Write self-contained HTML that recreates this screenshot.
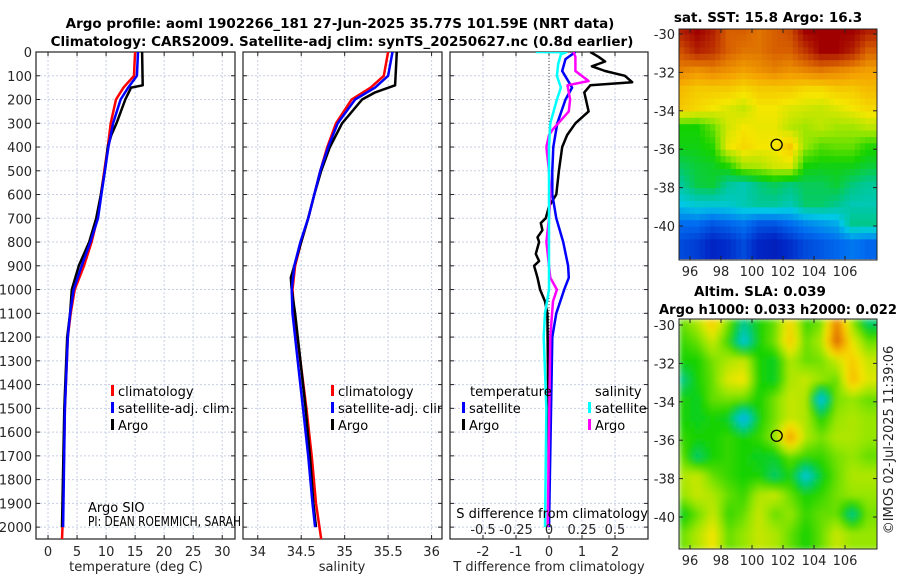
<!DOCTYPE html>
<html><head><meta charset="utf-8">
<style>
html,body{margin:0;padding:0;background:#fff;}
svg{display:block;font-family:"DejaVu Sans","Liberation Sans",sans-serif;}
.tk{font-size:13px;fill:#262626;}
.tt{font-size:13.5px;font-weight:bold;fill:#000;}
.lg{font-size:13px;fill:#000;}
</style></head>
<body>
<svg id="fig" width="900" height="580" viewBox="0 0 900 580" xmlns="http://www.w3.org/2000/svg">
<defs>
<clipPath id="c1"><rect x="36" y="52" width="199" height="487"/></clipPath>
<clipPath id="c2"><rect x="243" y="52" width="199" height="487"/></clipPath>
<clipPath id="c3"><rect x="450" y="52" width="198" height="487"/></clipPath>
<clipPath id="cm1"><rect x="679" y="29" width="198" height="231"/></clipPath>
<clipPath id="cm2"><rect x="679" y="319" width="198" height="230"/></clipPath>
<filter id="blur" x="0" y="0" width="1" height="1"><feGaussianBlur stdDeviation="3"/></filter>
</defs>
<text class="tt" x="340" y="28" text-anchor="middle">Argo profile: aoml 1902266_181 27-Jun-2025 35.77S 101.59E (NRT data)</text>
<text class="tt" x="342" y="46" text-anchor="middle">Climatology: CARS2009. Satellite-adj clim: synTS_20250627.nc (0.8d earlier)</text>
<g id="g1"></g>
<g id="g2"></g>
<g id="g3"></g>
<g id="m1"></g>
<g id="m2"></g>
<text class="tt" x="768" y="22" text-anchor="middle">sat. SST: 15.8 Argo: 16.3</text>
<text class="tt" x="760" y="296" text-anchor="middle">Altim. SLA: 0.039</text>
<text class="tt" x="659" y="314" textLength="238" lengthAdjust="spacingAndGlyphs">Argo h1000: 0.033 h2000: 0.022</text>
<text class="tk" transform="translate(893,440) rotate(-90)" text-anchor="middle">©IMOS 02-Jul-2025 11:39:06</text>
<text class="lg" x="88" y="512" font-size="12">Argo SIO</text>
<text class="lg" x="88" y="526" font-size="12" textLength="153" lengthAdjust="spacingAndGlyphs">PI: DEAN ROEMMICH, SARAH</text>
</svg>
<script>
// ---- data ----
const depthTicks=[0,100,200,300,400,500,600,700,800,900,1000,1100,1200,1300,1400,1500,1600,1700,1800,1900,2000];
const tempTicks=[0,5,10,15,20,25,30];
const salTicks=[34,34.5,35,35.5,36];
const diffTTicks=[-2,-1,0,1,2];
const diffSTicks=[-0.5,-0.25,0,0.25,0.5];
const tArgoZ=[0,140,150,200,300,350,400,500,600,700,800,900,1000,1100,1200,1500,2000];
const tArgo=[16.2,16.3,14.3,13.3,11.8,10.9,10.3,9.8,9.1,8.3,7.1,5.3,4.1,3.8,3.3,2.8,2.4];
const tClimZ=[0,50,100,150,200,300,400,500,600,700,800,900,1000,1100,1200,1500,2000,2050];
const tClim=[15.0,14.9,14.8,13.0,11.7,10.8,10.3,9.7,9.1,8.5,7.5,6.2,4.6,3.9,3.4,2.9,2.5,2.4];
const tSatZ=[0,100,150,200,300,400,500,600,700,800,900,1000,1100,1200,1500,2000];
const tSat=[15.5,15.3,13.8,12.5,11.2,10.4,9.8,9.2,8.6,7.3,5.8,4.4,3.8,3.4,2.9,2.6];
const sArgoZ=[0,140,170,200,300,400,500,600,700,800,900,950,1000,1100,1300,1500,1700,1900,2000];
const sArgo=[35.6,35.58,35.35,35.2,34.97,34.83,34.73,34.65,34.58,34.5,34.42,34.38,34.39,34.43,34.49,34.55,34.6,34.64,34.67];
const sClimZ=[0,100,150,200,300,400,500,600,700,800,900,1000,1100,1300,1500,1700,1900,2050];
const sClim=[35.5,35.45,35.3,35.08,34.9,34.8,34.72,34.65,34.58,34.5,34.43,34.4,34.42,34.49,34.56,34.62,34.67,34.73];
const sSatZ=[0,100,150,200,300,400,500,600,700,800,900,1000,1100,1300,1500,1700,1900,2000];
const sSat=[35.55,35.5,35.35,35.12,34.92,34.81,34.72,34.65,34.58,34.49,34.42,34.39,34.4,34.46,34.52,34.58,34.63,34.66];
const dTArgoZ=[0,20,40,60,80,100,127,140,170,250,300,350,400,500,600,650,700,720,750,780,800,850,880,900,950,1000,1050,1100,1500,2000];
const dTArgo=[1.25,1.5,1.7,1.3,1.7,2.3,2.52,1.25,1.07,1.2,0.8,0.55,0.4,0.3,0.22,0,-0.1,-0.25,-0.2,-0.35,-0.3,-0.4,-0.3,-0.45,-0.35,-0.27,-0.12,-0.05,-0.02,0];
const dTSatZ=[0,30,80,150,200,300,400,500,600,700,800,900,950,1000,1100,1200,2000];
const dTSat=[0.8,0.5,0.4,0.7,0.5,0.25,0.13,0.1,0.1,0.22,0.43,0.58,0.6,0.46,0.22,0.1,0];
const dSArgoZ=[0,20,80,122,140,200,250,325,350,400,500,600,700,800,900,950,1000,1050,1200,2000];
const dSArgo=[0.185,0.2,0.2,0.3,0.14,0.16,0.15,0.03,0,-0.02,0,0.01,0,-0.02,0,0.01,0.06,0.03,0.01,-0.01];
const dSSatZ=[0,1,10,50,100,150,200,300,400,1000,1100,1200,1500,2000];
const dSSat=[-0.1,0.13,0.09,0.07,0.06,0.09,0.06,0.01,0,0,-0.03,-0.04,-0.02,-0.03];
const lonTicks=[96,98,100,102,104,106];
const latTicks=[-30,-32,-34,-36,-38,-40];
const floatLon=101.59, floatLat=-35.77;
const sstGrid=[
[0.95,1.0,0.95,0.85,0.85,0.82,0.85,0.88,1.0,1.0,1.0,1.0,0.95],
[0.88,0.95,0.92,0.85,0.82,0.82,0.85,0.85,0.92,1.0,1.0,0.95,0.85],
[0.8,0.78,0.8,0.78,0.76,0.78,0.8,0.78,0.8,0.82,0.8,0.78,0.76],
[0.72,0.7,0.7,0.7,0.68,0.7,0.7,0.7,0.68,0.68,0.7,0.7,0.72],
[0.7,0.68,0.66,0.64,0.62,0.66,0.66,0.64,0.63,0.62,0.64,0.66,0.68],
[0.5,0.5,0.55,0.63,0.66,0.65,0.65,0.61,0.59,0.61,0.59,0.59,0.61],
[0.49,0.49,0.51,0.65,0.68,0.66,0.66,0.7,0.58,0.54,0.55,0.55,0.51],
[0.45,0.47,0.48,0.51,0.59,0.6,0.63,0.64,0.5,0.49,0.49,0.49,0.47],
[0.41,0.46,0.47,0.41,0.39,0.43,0.45,0.43,0.45,0.45,0.47,0.43,0.41],
[0.35,0.37,0.37,0.37,0.39,0.41,0.41,0.39,0.44,0.44,0.42,0.39,0.39],
[0.25,0.25,0.22,0.24,0.26,0.22,0.22,0.25,0.28,0.3,0.32,0.42,0.42],
[0.2,0.18,0.14,0.16,0.2,0.14,0.12,0.16,0.2,0.22,0.24,0.26,0.24]];
const slaGrid=[
[0.55,0.6,0.7,0.56,0.42,0.5,0.55,0.68,0.52,0.56,0.8,0.58,0.44],
[0.52,0.55,0.62,0.52,0.36,0.5,0.56,0.7,0.55,0.6,0.84,0.65,0.55],
[0.5,0.5,0.56,0.6,0.62,0.5,0.48,0.6,0.55,0.56,0.62,0.7,0.62],
[0.42,0.5,0.55,0.64,0.66,0.5,0.48,0.6,0.62,0.58,0.55,0.72,0.64],
[0.5,0.48,0.55,0.56,0.55,0.5,0.56,0.62,0.6,0.34,0.56,0.58,0.55],
[0.5,0.48,0.5,0.48,0.32,0.5,0.56,0.62,0.6,0.5,0.58,0.6,0.58],
[0.52,0.5,0.5,0.52,0.5,0.52,0.58,0.76,0.6,0.56,0.6,0.6,0.58],
[0.55,0.44,0.5,0.52,0.5,0.48,0.48,0.55,0.52,0.52,0.56,0.58,0.55],
[0.6,0.62,0.55,0.52,0.5,0.5,0.44,0.5,0.36,0.48,0.55,0.6,0.6],
[0.58,0.62,0.6,0.55,0.52,0.6,0.62,0.55,0.5,0.52,0.56,0.58,0.58],
[0.48,0.55,0.62,0.52,0.55,0.62,0.55,0.58,0.52,0.55,0.55,0.42,0.56],
[0.55,0.6,0.66,0.55,0.58,0.62,0.6,0.55,0.5,0.55,0.62,0.58,0.58]];

// ---- helpers ----
const NS='http://www.w3.org/2000/svg';
function mk(p,tag,at){const e=document.createElementNS(NS,tag);for(const k in at)e.setAttribute(k,at[k]);p.appendChild(e);return e;}
const Y0=52,Y1=539;
const yD=d=>Y0+(d-0)/(2050-0)*(Y1-Y0);
function panel(g,x0,x1,lo,hi,xt,clip,showY,gridX){
  const xs=v=>x0+(v-lo)/(hi-lo)*(x1-x0);
  for(const d of depthTicks){const l=mk(g,'line',{x1:x0,x2:x1,y1:yD(d),y2:yD(d),stroke:'#c8cfe6','stroke-dasharray':'2,2','stroke-width':1});
    }
  for(const v of gridX){const l=mk(g,'line',{x1:xs(v),x2:xs(v),y1:Y0,y2:Y1,stroke:'#c8cfe6','stroke-dasharray':'2,2','stroke-width':1});
    }
  for(const d of depthTicks){mk(g,'line',{x1:x0,x2:x0+4,y1:yD(d),y2:yD(d),stroke:'#222'});mk(g,'line',{x1:x1,x2:x1-4,y1:yD(d),y2:yD(d),stroke:'#222'});
    if(showY){const t=mk(g,'text',{class:'tk',x:x0-4,y:yD(d)+5,'text-anchor':'end'});t.textContent=d;
      }}
  for(const v of xt){mk(g,'line',{x1:xs(v),x2:xs(v),y1:Y1,y2:Y1-4,stroke:'#222'});mk(g,'line',{x1:xs(v),x2:xs(v),y1:Y0,y2:Y0+4,stroke:'#222'});
    const t=mk(g,'text',{class:'tk',x:xs(v),y:Y1+17,'text-anchor':'middle'});t.textContent=v;
    }
  const f=mk(g,'rect',{x:x0,y:Y0,width:x1-x0,height:Y1-Y0,fill:'none',stroke:'#222','stroke-width':1.2});
  
  return xs;
}
function line(g,xs,zs,vs,col,w,clip,name,scale){
  const pts=zs.map((z,i)=>xs(vs[i]*(scale||1)).toFixed(1)+','+yD(z).toFixed(1)).join(' ');
  const p=mk(g,'polyline',{points:pts,fill:'none',stroke:col,'stroke-width':w,'stroke-linejoin':'round','clip-path':'url(#'+clip+')'});
  
}
function legend(g,x,y,items){
  items.forEach((it,i)=>{
    mk(g,'rect',{x:x,y:y+i*17-11,width:3,height:11,fill:it[1]});
    const t=mk(g,'text',{class:'lg',x:x+7,y:y+i*17});t.textContent=it[0];
    
  });
}
function label(g,x,y,s,name){const t=mk(g,'text',{class:'tk',x:x,y:y,'text-anchor':'middle'});t.textContent=s;
  return t;}

const g1=document.getElementById('g1');
const xT=panel(g1,36,235,-2.07,32.2,tempTicks,'c1',true,tempTicks);
line(g1,xT,tClimZ,tClim,'#f00',2.5,'c1','temp-climatology-line');
line(g1,xT,tArgoZ,tArgo,'#000',2.5,'c1','temp-argo-line');
line(g1,xT,tSatZ,tSat,'#00f',2.5,'c1','temp-satellite-line');
const lg1=mk(g1,'g',{'clip-path':'url(#c1)'});
legend(lg1,111,396,[['climatology','#f00'],['satellite-adj. clim.','#00f'],['Argo','#000']]);
label(g1,136,571,'temperature (deg C)','x-axis-title-temp');

const g2=document.getElementById('g2');
const xS=panel(g2,243,442,33.83,36.12,salTicks,'c2',false,salTicks);
line(g2,xS,sClimZ,sClim,'#f00',2.5,'c2','sal-climatology-line');
line(g2,xS,sArgoZ,sArgo,'#000',2.5,'c2','sal-argo-line');
line(g2,xS,sSatZ,sSat,'#00f',2.5,'c2','sal-satellite-line');
const lg2=mk(g2,'g',{'clip-path':'url(#c2)'});
legend(lg2,331,396,[['climatology','#f00'],['satellite-adj. clim.','#00f'],['Argo','#000']]);
label(g2,342,571,'salinity','x-axis-title-sal');

const g3=document.getElementById('g3');
const xDf=panel(g3,450,648,-3,3,diffTTicks,'c3',false,diffTTicks);
const z0=mk(g3,'line',{x1:xDf(0),x2:xDf(0),y1:Y0,y2:Y1,stroke:'#444','stroke-dasharray':'1,2'});

line(g3,xDf,dTArgoZ,dTArgo,'#000',2.5,'c3','diff-temp-argo-line');
line(g3,xDf,dTSatZ,dTSat,'#00f',2.5,'c3','diff-temp-satellite-line');
line(g3,xDf,dSArgoZ,dSArgo,'#f0f',2.5,'c3','diff-sal-argo-line',4);
line(g3,xDf,dSSatZ,dSSat,'#0ff',2.5,'c3','diff-sal-satellite-line',4);
const t3a=mk(g3,'text',{class:'lg',x:470,y:396});t3a.textContent='temperature';

const t3b=mk(g3,'text',{class:'lg',x:595,y:396});t3b.textContent='salinity';

legend(g3,462,413,[['satellite','#00f'],['Argo','#000']]);
const lg3=mk(g3,'g',{'clip-path':'url(#c3)'});
legend(lg3,588,413,[['satellite','#0ff'],['Argo','#f0f']]);
const sl=mk(g3,'text',{class:'lg',x:648,y:518,'text-anchor':'end'});sl.textContent='S difference from climatology';

for(const v of diffSTicks){label(g3,xDf(v*4),534,String(v),'secondary-tick-label');}
label(g3,549,571,'T difference from climatology','x-axis-title-diff');

// ---- maps ----
const cmapStops=[[0,[10,0,140]],[0.15,[0,40,200]],[0.25,[0,110,240]],[0.35,[0,200,230]],[0.42,[0,200,140]],[0.5,[20,210,0]],[0.58,[150,230,0]],[0.66,[245,230,0]],[0.75,[245,165,0]],[0.85,[215,95,0]],[1,[160,0,0]]];
function cmap(v){v=Math.max(0,Math.min(1,v));
  for(let i=1;i<cmapStops.length;i++){if(v<=cmapStops[i][0]){const a=cmapStops[i-1],b=cmapStops[i];const t=(v-a[0])/(b[0]-a[0]);
    return 'rgb('+a[1].map((c,k)=>Math.round(c+(b[1][k]-c)*t)).join(',')+')';}}
  return 'rgb(160,0,0)';}
function map(gid,grid,x0,x1,yTop,yBot,lat30y,lat40y,clip,blur,name){
  const g=document.getElementById(gid);
  const lonX=l=>690+(l-96)*(845-690)/10;
  const latY=l=>lat30y+(-30-l)*(lat40y-lat30y)/10;
  const cg=mk(g,'g',{'clip-path':'url(#'+clip+')'});
  const inner=mk(cg,'g',blur?{filter:'url(#blur)'}:{});
  const rows=grid.length,cols=grid[0].length,sub=3;
  for(let r=0;r<rows;r++)for(let c=0;c<cols;c++){
    for(let a=0;a<sub;a++)for(let b=0;b<sub;b++){
      const fr=r+a/sub,fc=c+b/sub;
      const r0=Math.min(rows-1,Math.floor(fr)),r1=Math.min(rows-1,r0+1),c0=Math.min(cols-1,Math.floor(fc)),c1=Math.min(cols-1,c0+1);
      const tr=fr-r0,tc=fc-c0;
      const v=grid[r0][c0]*(1-tr)*(1-tc)+grid[r0][c1]*(1-tr)*tc+grid[r1][c0]*tr*(1-tc)+grid[r1][c1]*tr*tc;
      const lonA=95.3+fc*1.0,latA=-29.7-fr*1.0;
      const x=lonX(lonA),y=latY(latA),w=lonX(lonA+1/sub)-x+0.6,h=latY(latA-1/sub)-y+0.6;
      const cell=mk(inner,'rect',{x:x.toFixed(1),y:y.toFixed(1),width:w.toFixed(1),height:h.toFixed(1),fill:cmap(v)});
      
      
    }}
  const f=mk(g,'rect',{x:x0,y:yTop,width:x1-x0,height:yBot-yTop,fill:'none',stroke:'#222','stroke-width':1});
  
  for(const l of lonTicks){const x=lonX(l);mk(g,'line',{x1:x,x2:x,y1:yTop,y2:yTop+4,stroke:'#222'});mk(g,'line',{x1:x,x2:x,y1:yBot,y2:yBot-4,stroke:'#222'});
    const t=mk(g,'text',{class:'tk',x:x,y:yBot+16,'text-anchor':'middle'});t.textContent=l;
    }
  for(const l of latTicks){const y=latY(l);mk(g,'line',{x1:x0,x2:x0+4,y1:y,y2:y,stroke:'#222'});mk(g,'line',{x1:x1,x2:x1-4,y1:y,y2:y,stroke:'#222'});
    const t=mk(g,'text',{class:'tk',x:x0-4,y:y+5,'text-anchor':'end'});t.textContent=l;
    }
  const m=mk(g,'circle',{cx:lonX(floatLon),cy:latY(floatLat),r:5.5,fill:'none',stroke:'#000','stroke-width':1.3});
  
}
map('m1',sstGrid,679,877,29,260,34,226,'cm1',false,'sst-map');
map('m2',slaGrid,679,877,319,549,325,517,'cm2',true,'sla-map');
</script>
</body></html>
